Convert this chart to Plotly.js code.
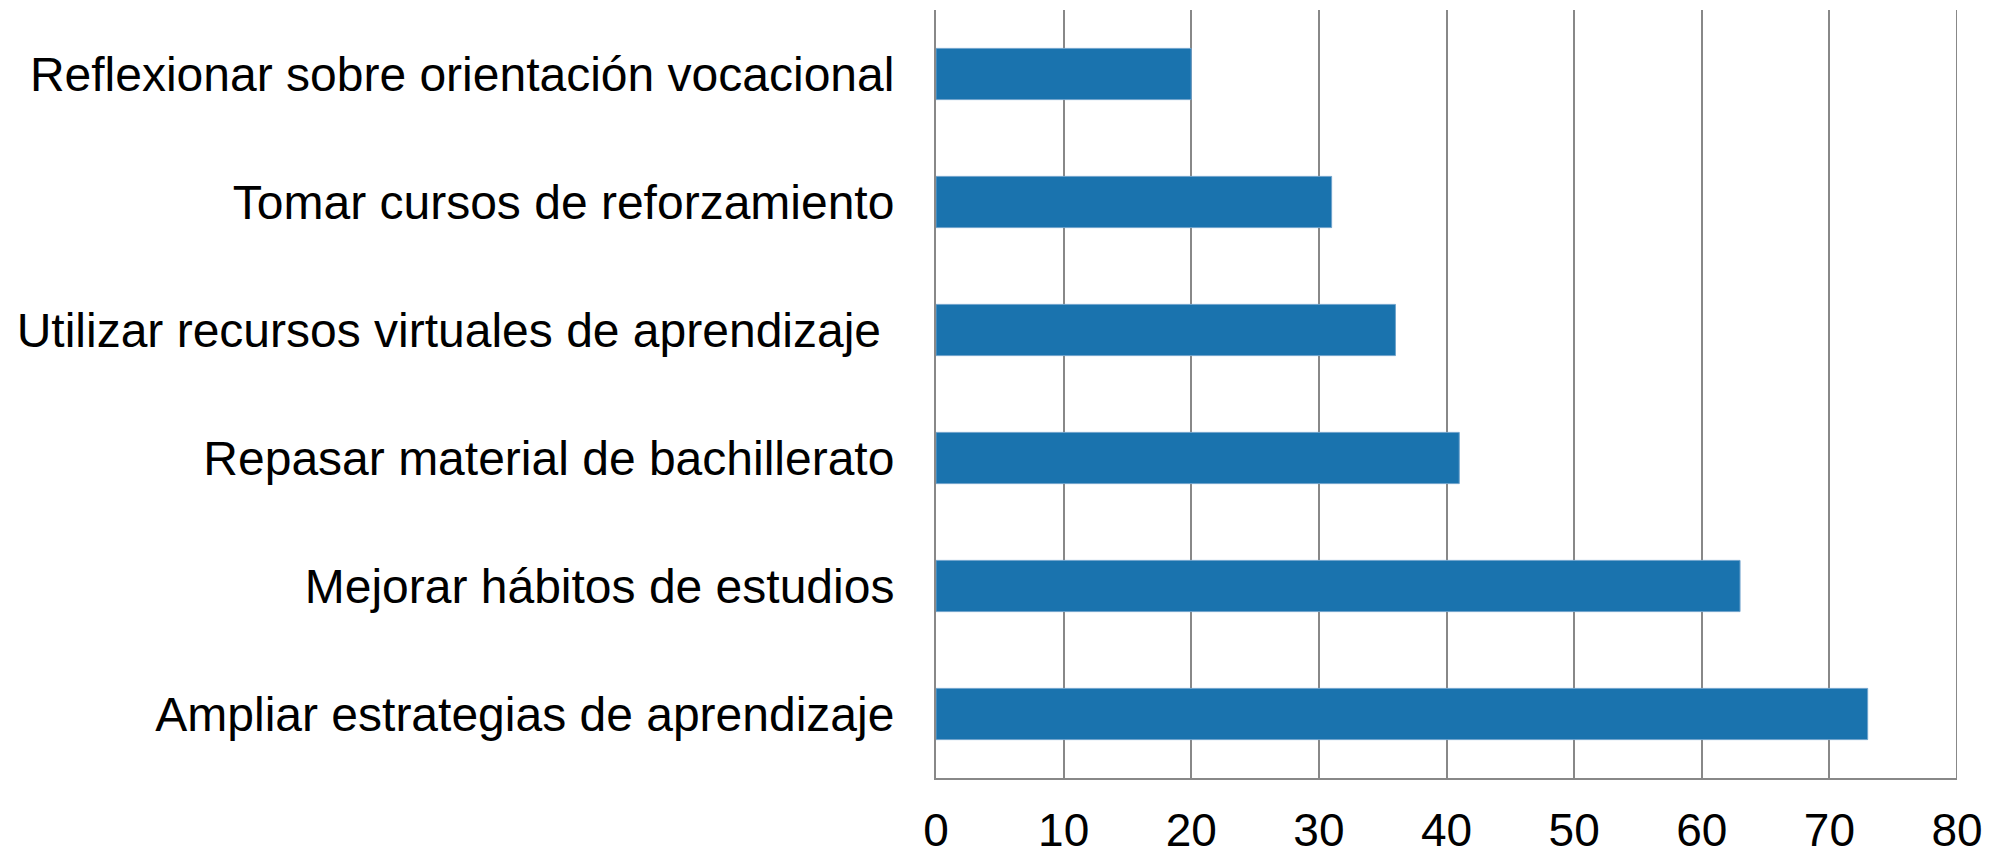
<!DOCTYPE html>
<html>
<head>
<meta charset="utf-8">
<script src="https://cdn.plot.ly/plotly-3.0.1.min.js"></script>
<style>
  html, body { margin: 0; padding: 0; background: #fff; }
  #chart { width: 1998px; height: 857px; }
</style>
</head>
<body>
<div id="chart"></div>
<script>
// categories listed bottom to top, as plotly draws them
const categories = [
    'Ampliar estrategias de aprendizaje',
    'Mejorar hábitos de estudios',
    'Repasar material de bachillerato',
    'Utilizar recursos virtuales de aprendizaje ',
    'Tomar cursos de reforzamiento',
    'Reflexionar sobre orientación vocacional'
];
const values = [73, 63, 41, 36, 31, 20];
const xTicks = [0, 10, 20, 30, 40, 50, 60, 70, 80];

const data = [{
    type: 'bar',
    orientation: 'h',
    y: categories,
    x: values,
    marker: { color: '#1a73ae', line: { width: 1, color: '#6fa3cc' } },
    hoverinfo: 'x+y'
}];

const layout = {
    width: 1998,
    height: 857,
    margin: { l: 936, r: 41, t: 10, b: 79 },
    paper_bgcolor: '#fff',
    plot_bgcolor: '#fff',
    font: { family: '"Liberation Sans", Arial, sans-serif', size: 48, color: '#000' },
    bargap: 0.6,
    showlegend: false,
    xaxis: {
        range: [0, 80],
        tickvals: xTicks,
        ticktext: xTicks.map(String),
        showgrid: true,
        gridcolor: '#888888',
        gridwidth: 2,
        zeroline: false,
        showline: true,
        linecolor: '#888888',
        linewidth: 2,
        ticks: '',
        ticklabelstandoff: 11,
        tickfont: { size: 46 },
        fixedrange: true
    },
    yaxis: {
        showgrid: false,
        zeroline: false,
        showline: true,
        linecolor: '#888888',
        linewidth: 2,
        ticks: '',
        ticklabelstandoff: 30,
        tickfont: { size: 48 },
        fixedrange: true
    },
    shapes: [{
        // right border at 80
        type: 'line', xref: 'x', yref: 'paper',
        x0: 80, x1: 80, y0: 0, y1: 1,
        line: { color: '#888888', width: 2 }
    }]
};

Plotly.newPlot('chart', data, layout, { displayModeBar: false, staticPlot: true });
</script>
</body>
</html>
